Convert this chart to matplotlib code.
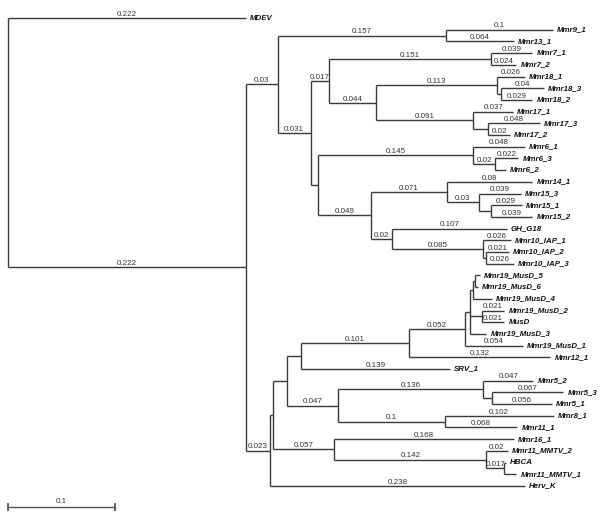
import matplotlib
matplotlib.use("Agg")
import matplotlib.pyplot as plt

plt.rcParams['font.family'] = ['Liberation Sans', 'DejaVu Sans']

# tree edges: child, parent, branch length (children listed top to bottom)
child = ["MDEV", "A",
         "B", "I",
         "n9", "C",
         "Mmr9_1", "Mmr13_1",
         "E", "D",
         "n7", "F",
         "Mmr7_1", "Mmr7_2",
         "n18", "n17",
         "Mmr18_1", "n18b",
         "Mmr18_3", "Mmr18_2",
         "Mmr17_1", "n17b",
         "Mmr17_3", "Mmr17_2",
         "n6", "G",
         "Mmr6_1", "n6b",
         "Mmr6_3", "Mmr6_2",
         "n14", "H",
         "Mmr14_1", "n15",
         "Mmr15_3", "n15b",
         "Mmr15_1", "Mmr15_2",
         "GH_G18", "n10",
         "Mmr10_IAP_1", "n10b",
         "Mmr10_IAP_2", "Mmr10_IAP_3",
         "J", "Herv_K",
         "K", "L",
         "M", "n58",
         "N", "SRV_1",
         "O", "Mmr12_1",
         "X", "Mmr19_MusD_1",
         "Y", "Z", "Mmr19_MusD_3",
         "V", "Mmr19_MusD_4",
         "Mmr19_MusD_5", "Mmr19_MusD_6",
         "Mmr19_MusD_2", "MusD",
         "n5", "n8",
         "Mmr5_2", "n5b",
         "Mmr5_3", "Mmr5_1",
         "Mmr8_1", "Mmr11_1",
         "Mmr16_1", "nM",
         "Mmr11_MMTV_2", "nMb",
         "HBCA", "Mmr11_MMTV_1"]
parent = ["root", "root",
          "A", "A",
          "B", "B",
          "n9", "n9",
          "C", "C",
          "E", "E",
          "n7", "n7",
          "F", "F",
          "n18", "n18",
          "n18b", "n18b",
          "n17", "n17",
          "n17b", "n17b",
          "D", "D",
          "n6", "n6",
          "n6b", "n6b",
          "G", "G",
          "n14", "n14",
          "n15", "n15",
          "n15b", "n15b",
          "H", "H",
          "n10", "n10",
          "n10b", "n10b",
          "I", "I",
          "J", "J",
          "K", "K",
          "M", "M",
          "N", "N",
          "O", "O",
          "X", "X", "X",
          "Y", "Y",
          "V", "V",
          "Z", "Z",
          "n58", "n58",
          "n5", "n5",
          "n5b", "n5b",
          "n8", "n8",
          "L", "L",
          "nM", "nM",
          "nMb", "nMb"]
blen = [0.222, 0.222,
        0.03, 0.023,
        0.157, 0.031,
        0.1, 0.064,
        0.017, 0.007,
        0.151, 0.044,
        0.039, 0.024,
        0.113, 0.091,
        0.026, 0.004,
        0.04, 0.029,
        0.037, 0.014,
        0.048, 0.02,
        0.145, 0.049,
        0.048, 0.02,
        0.022, 0.01,
        0.071, 0.02,
        0.08, 0.03,
        0.039, 0.011,
        0.029, 0.039,
        0.107, 0.085,
        0.026, 0.003,
        0.021, 0.026,
        0.003, 0.238,
        0.013, 0.057,
        0.013, 0.047,
        0.101, 0.139,
        0.052, 0.132,
        0.005, 0.054,
        0.003, 0.011, 0.015,
        0.001, 0.017,
        0.005, 0.003,
        0.021, 0.021,
        0.136, 0.1,
        0.047, 0.008,
        0.067, 0.056,
        0.102, 0.068,
        0.168, 0.142,
        0.02, 0.017,
        0.001, 0.011]
# short branches shown without a length label
no_label = ["D", "n18b", "n17b", "Mmr6_2", "n15b", "n10b", "J", "K", "M",
            "X", "Y", "Z", "Mmr19_MusD_3", "V", "Mmr19_MusD_4",
            "Mmr19_MusD_5", "Mmr19_MusD_6", "n5b", "HBCA", "Mmr11_MMTV_1"]

kids = {}
for c, p in zip(child, parent):
    kids.setdefault(p, []).append(c)
length = dict(zip(child, blen))

xpos, ypos = {}, {}
counter = [0]


def place(n, x):
    xpos[n] = x
    if n not in kids:
        ypos[n] = counter[0]
        counter[0] += 1
        return
    for c in kids[n]:
        place(c, x + length[c])
    ypos[n] = (ypos[kids[n][0]] + ypos[kids[n][-1]]) / 2


place("root", 0.0)

line_col = "#3a3a3a"
fig = plt.figure(figsize=(6, 5.2), dpi=100)
ax = fig.add_axes([0, 0, 1, 1])
ax.axis("off")

# vertical connectors
for n, ch in kids.items():
    ax.plot([xpos[n], xpos[n]], [ypos[ch[0]], ypos[ch[-1]]], color=line_col, lw=1.0,
            solid_capstyle="butt")

# horizontal branches + labels
for c, p in zip(child, parent):
    ax.plot([xpos[p], xpos[c]], [ypos[c], ypos[c]], color=line_col, lw=1.0,
            solid_capstyle="butt")
    if c not in no_label:
        ax.annotate(repr(length[c]), ((xpos[p] + xpos[c]) / 2, ypos[c]),
                    xytext=(0, 1.6), textcoords="offset points",
                    ha="center", va="baseline", fontsize=5.8, color="#333333")
    if c not in kids:
        ax.annotate(c, (xpos[c], ypos[c]), xytext=(3, 0), textcoords="offset points",
                    ha="left", va="center", fontsize=5.7, fontweight="bold",
                    style="italic", color="#111111")

# scale bar
sb_y = 41.8
ax.plot([0, 0.1], [sb_y, sb_y], color="#555555", lw=1.0)
for xe in [0, 0.1]:
    ax.plot([xe, xe], [sb_y - 0.22, sb_y + 0.22], color="#555555", lw=1.3)
ax.annotate("0.1", (0.05, sb_y), xytext=(0, 2.8), textcoords="offset points",
            ha="center", va="baseline", fontsize=5.8, color="#333333")

ax.set_xlim(-8 / 1070, 592 / 1070)
ax.set_ylim((520 - 18) / 11.7, -18 / 11.7)

fig.savefig("out.png", dpi=100)
